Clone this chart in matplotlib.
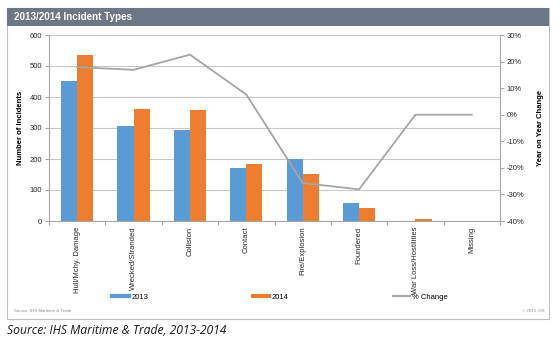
import matplotlib
matplotlib.use("Agg")
import matplotlib.pyplot as plt
import numpy as np
from matplotlib.patches import Rectangle
from matplotlib.lines import Line2D
from matplotlib.ticker import FuncFormatter

categories = ["Hull/Mchy. Damage", "Wrecked/Stranded", "Collision", "Contact",
              "Fire/Explosion", "Foundered", "War Loss/Hostilities", "Missing"]
v2013 = [453, 308, 292, 171, 201, 57, 0, 1]
v2014 = [534, 360, 358, 184, 151, 41, 7, 1]
pct_change = [17.9, 16.9, 22.6, 7.6, -25.7, -28.1, 0.0, 0.0]
left_ticks = [0, 100, 200, 300, 400, 500, 600]
right_ticks = [-40, -30, -20, -10, 0, 10, 20, 30]

BLUE = "#5B9BD5"
ORANGE = "#ED7D31"
GRAY = "#A5A5A5"
W, H = 560, 352

plt.rcParams['font.family'] = ['Liberation Sans', 'DejaVu Sans']
fig = plt.figure(figsize=(W/100, H/100), dpi=100)

# panel border and title bar
fig.patches.append(Rectangle((7/W, 1-319/H), 542/W, 311/H, transform=fig.transFigure,
                             facecolor="white", edgecolor="#BFBFBF", lw=0.8, zorder=-10))
fig.patches.append(Rectangle((7/W, 1-26/H), 542/W, 18/H, transform=fig.transFigure,
                             facecolor="#6B7785", edgecolor="none", zorder=-9))
fig.text(14/W, 1-17.5/H, "2013/2014 Incident Types", color="white", fontsize=7.1,
         fontweight="bold", va="center", ha="left")

ax = fig.add_axes([49/W, 1-221/H, 451/W, 186/H])
ax.patch.set_alpha(0)
x = np.arange(len(categories))
bw = 0.285
ax.bar(x - bw/2, v2013, bw, color=BLUE, zorder=3, label="2013")
ax.bar(x + bw/2, v2014, bw, color=ORANGE, zorder=3, label="2014")
ax.set_xlim(-0.5, len(categories) - 0.5)
ax.set_ylim(0, 600)
ax.set_yticks(left_ticks)
ax.yaxis.grid(True, color="#C9C9C9", lw=0.8, zorder=0)
ax.set_axisbelow(True)
for s in ["top", "right"]:
    ax.spines[s].set_visible(False)
for s in ["left", "bottom"]:
    ax.spines[s].set_color("#A6A6A6")
    ax.spines[s].set_linewidth(0.8)
ax.set_xticks(np.arange(len(categories) + 1) - 0.5, minor=False)
ax.set_xticklabels([])
ax.set_xticks(x, minor=True)
ax.set_xticklabels(categories, minor=True, rotation=90, fontsize=5.5, va="top", ha="center",
                   color="#262626")
ax.tick_params(axis="x", which="major", length=3, color="#A6A6A6")
ax.tick_params(axis="x", which="minor", length=0, pad=4)
ax.tick_params(axis="y", length=3, color="#A6A6A6", labelsize=5.5, pad=2, labelcolor="#262626")
ax.set_ylabel("Number of Incidents", fontsize=5.5, fontweight="bold", labelpad=4)

ax2 = ax.twinx()
ax2.plot(x, pct_change, color=GRAY, lw=1.3, zorder=4, label="% Change")
ax2.set_ylim(-40, 30)
ax2.set_yticks(right_ticks)
ax2.yaxis.set_major_formatter(FuncFormatter(lambda v, p: f"{int(v)}%"))
for s in ["top", "left", "bottom"]:
    ax2.spines[s].set_visible(False)
ax2.spines["right"].set_color("#A6A6A6")
ax2.spines["right"].set_linewidth(0.8)
ax2.tick_params(axis="y", length=3, color="#A6A6A6", labelsize=5.5, pad=2, labelcolor="#262626")
ax2.set_ylabel("Year on Year Change", fontsize=5.5, fontweight="bold", labelpad=9)

handles = [Line2D([], [], color=BLUE, lw=3), Line2D([], [], color=ORANGE, lw=3),
           Line2D([], [], color=GRAY, lw=1.5)]
fig.legend(handles, ["2013", "2014", "% Change"], loc="center left",
           bbox_to_anchor=(112/W, 1-297/H), ncol=3, frameon=False, fontsize=5.5,
           handlelength=2.2, handletextpad=0.3, columnspacing=13.7, borderaxespad=0,
           borderpad=0)

fig.text(14/W, 1-311/H, "Source: IHS Maritime & Trade", fontsize=3.2, color="#8C8C8C",
         va="center", ha="left")
fig.text(544/W, 1-311/H, "\u00a9 2015 IHS", fontsize=3.2, color="#8C8C8C",
         va="center", ha="right")
fig.text(7/W, 1-330/H, "Source: IHS Maritime & Trade, 2013-2014", fontsize=8.7,
         style="italic", color="#1A1A1A", va="center", ha="left", family=["Open Sans", "DejaVu Sans"])

fig.savefig("out.png", dpi=100)
